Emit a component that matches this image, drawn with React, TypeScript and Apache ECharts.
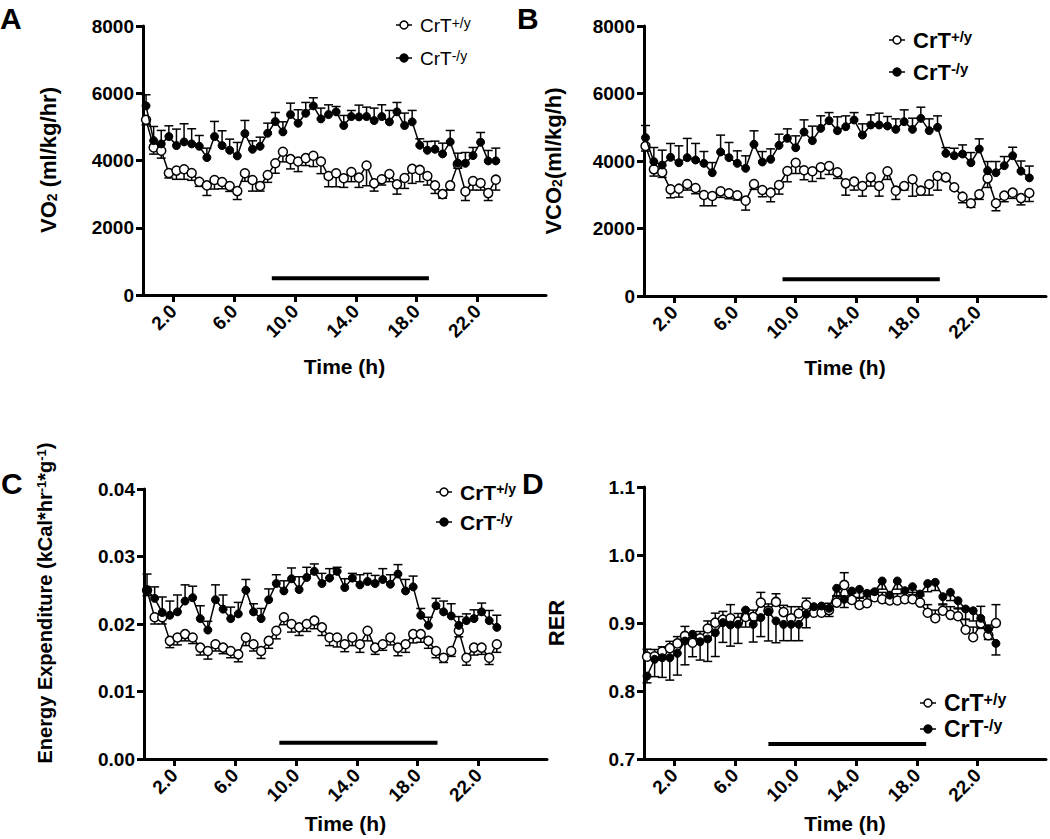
import React, { useEffect, useRef } from "react";
import * as echarts from "echarts";

const FONT = "'Liberation Sans', Arial, Helvetica, sans-serif";

// time points (h)
const timeACD = [0.2,0.7,1.2,1.7,2.2,2.7,3.2,3.7,4.2,4.7,5.2,5.7,6.2,6.7,7.2,7.7,8.2,8.7,9.2,9.7,10.2,10.7,11.2,11.7,12.2,12.7,13.2,13.7,14.2,14.7,15.2,15.7,16.2,16.7,17.2,17.7,18.2,18.7,19.2,19.7,20.2,20.7,21.2,21.7,22.2,22.7,23.2];
const timeB = [0.1,0.65,1.2,1.75,2.3,2.85,3.4,3.95,4.5,5.05,5.6,6.15,6.7,7.25,7.8,8.35,8.9,9.45,10.0,10.55,11.1,11.65,12.2,12.75,13.3,13.85,14.4,14.95,15.5,16.05,16.6,17.15,17.7,18.25,18.8,19.35,19.9,20.45,21.0,21.55,22.1,22.65,23.2,23.75,24.3,24.85,25.4];
const xTicks = [2, 6, 10, 14, 18, 22];

// Panel A: VO2
const vo2Wt = [5210,4390,4290,3630,3700,3740,3630,3370,3260,3420,3360,3240,3090,3620,3420,3240,3570,3920,4260,4040,3970,4070,4140,3970,3540,3620,3470,3660,3490,3850,3320,3440,3600,3290,3480,3750,3720,3540,3260,3000,3260,3890,3080,3390,3330,3030,3430];
const vo2WtErr = [150,200,220,150,260,300,220,140,300,270,200,160,250,240,330,150,220,300,300,290,300,220,320,360,320,400,270,290,290,600,230,170,230,290,310,430,350,270,240,120,140,120,270,270,210,220,310];
const vo2Ko = [5625,4592,4494,4712,4444,4553,4494,4424,4087,4712,4444,4305,4137,4801,4335,4424,4811,5158,4851,5366,5109,5406,5625,5238,5366,5446,5040,5307,5297,5307,5188,5307,5149,5446,5040,5149,4454,4305,4335,4196,4553,3918,3918,4147,4543,3988,3988];
const vo2KoErr = [330,420,400,320,490,540,450,320,280,450,440,330,400,390,250,270,300,270,300,340,400,320,240,320,290,160,300,180,350,280,370,350,340,280,370,340,190,260,240,320,340,300,320,240,290,310,380];
const vo2Bar = [[8.47, 500], [18.8, 500]];

// Panel B: VCO2
const vco2Wt = [4444,3753,3664,3160,3180,3318,3200,2993,2963,3101,3042,2983,2825,3318,3141,3062,3289,3704,3950,3724,3694,3812,3852,3664,3338,3388,3259,3516,3259,3694,3121,3259,3457,3121,3309,3556,3516,3220,2943,2746,3012,3486,2746,2973,3062,2900,3050];
const vco2WtErr = [150,200,150,250,250,180,170,320,290,180,160,140,280,160,200,270,270,320,320,280,300,330,250,180,350,250,300,260,300,240,260,120,500,130,320,420,100,60,180,120,150,270,220,180,170,200,250];
const vco2Ko = [4692,3980,3881,4109,3950,4099,4030,3931,3654,4267,4099,3931,3783,4494,3970,4050,4464,4672,4395,4859,4603,4968,5195,4899,5017,5215,4770,5067,5067,5037,4938,5166,4938,5264,4899,4997,4227,4158,4207,3950,4356,3714,3654,3862,4158,3700,3500];
const vco2KoErr = [360,420,440,410,500,570,490,350,300,500,450,370,370,400,310,310,330,280,350,360,430,370,240,410,320,220,330,300,350,280,310,350,330,330,350,340,170,220,270,300,300,270,330,270,250,300,350];
const vco2Bar = [[9.13, 500], [19.5, 500]];

// Panel C: Energy expenditure
const eeWt = [0.0250,0.0210,0.0210,0.0175,0.0180,0.0185,0.0180,0.0165,0.0160,0.0170,0.0165,0.0160,0.0155,0.0180,0.0170,0.0160,0.0175,0.0190,0.0210,0.0200,0.0195,0.0200,0.0205,0.0195,0.0180,0.0180,0.0170,0.0180,0.0170,0.0190,0.0165,0.0170,0.0180,0.0165,0.0170,0.0185,0.0185,0.0175,0.0160,0.0150,0.0160,0.0190,0.0150,0.0165,0.0165,0.0150,0.0170];
const eeWtErr = [0.0008,0.0010,0.0010,0.0010,0.0011,0.0010,0.0009,0.0011,0.0012,0.0010,0.0009,0.0010,0.0011,0.0012,0.0010,0.0011,0.0011,0.0012,0.0011,0.0012,0.0012,0.0011,0.0012,0.0012,0.0012,0.0014,0.0011,0.0012,0.0012,0.0015,0.0010,0.0009,0.0011,0.0012,0.0012,0.0013,0.0012,0.0011,0.0010,0.0007,0.0008,0.0009,0.0011,0.0011,0.0010,0.0010,0.0012];
const eeKo = [0.0250,0.0238,0.0217,0.0213,0.0218,0.0234,0.0239,0.0208,0.0191,0.0236,0.0222,0.0208,0.0215,0.0250,0.0218,0.0208,0.0236,0.0260,0.0249,0.0267,0.0251,0.0269,0.0278,0.0260,0.0268,0.0278,0.0254,0.0268,0.0258,0.0263,0.0260,0.0266,0.0259,0.0274,0.0249,0.0255,0.0213,0.0198,0.0227,0.0218,0.0212,0.0198,0.0205,0.0208,0.0218,0.0205,0.0195];
const eeKoErr = [0.0024,0.0017,0.0023,0.0021,0.0025,0.0024,0.0017,0.0019,0.0013,0.0022,0.0021,0.0017,0.0017,0.0016,0.0012,0.0015,0.0016,0.0013,0.0015,0.0016,0.0019,0.0015,0.0011,0.0015,0.0014,0.0006,0.0013,0.0007,0.0015,0.0012,0.0012,0.0016,0.0014,0.0014,0.0017,0.0016,0.0010,0.0012,0.0011,0.0016,0.0018,0.0013,0.0010,0.0013,0.0013,0.0015,0.0018];
const eeBar = [[8.9, 0.0024], [19.3, 0.0024]];

// Panel D: RER
const rerWt = [0.8505,0.851,0.858,0.863,0.870,0.881,0.871,0.8775,0.892,0.9005,0.905,0.907,0.902,0.909,0.909,0.930,0.918,0.931,0.916,0.907,0.914,0.9265,0.915,0.915,0.919,0.930,0.956,0.934,0.9265,0.929,0.938,0.935,0.933,0.933,0.935,0.935,0.930,0.915,0.907,0.918,0.912,0.910,0.890,0.879,0.8995,0.882,0.900];
const rerWtErr = [0.011,0.010,0.007,0.010,0.010,0.014,0.010,0.010,0.011,0.014,0.012,0.020,0.012,0.010,0.010,0.015,0.010,0.012,0.010,0.017,0.010,0.010,0.010,0.010,0.010,0.010,0.018,0.010,0.010,0.010,0.010,0.010,0.010,0.010,0.010,0.010,0.010,0.012,0.012,0.010,0.012,0.012,0.015,0.015,0.025,0.015,0.027];
const rerKo = [0.822,0.8466,0.849,0.849,0.8554,0.8735,0.8834,0.8725,0.8765,0.8857,0.9005,0.897,0.898,0.919,0.898,0.908,0.9166,0.903,0.898,0.898,0.898,0.913,0.924,0.925,0.9216,0.951,0.9348,0.947,0.9495,0.9436,0.946,0.9618,0.941,0.9618,0.9475,0.9534,0.9426,0.958,0.9598,0.9387,0.945,0.9328,0.9206,0.918,0.907,0.8907,0.870];
const rerKoErr = [0.010,0.0255,0.029,0.033,0.032,0.035,0.033,0.027,0.033,0.035,0.029,0.031,0.028,0.025,0.026,0.028,0.043,0.032,0.024,0.024,0.024,0.020,0.012,0.012,0.012,0.012,0.012,0.012,0.012,0.012,0.012,0.012,0.012,0.012,0.012,0.012,0.012,0.012,0.012,0.012,0.012,0.012,0.015,0.015,0.015,0.015,0.017];
const rerBar = [[8.2, 0.722], [18.6, 0.722]];

const grids = [
  { left: 143, top: 26, width: 403, height: 269 },
  { left: 644, top: 26, width: 402, height: 270 },
  { left: 144, top: 489, width: 403, height: 270 },
  { left: 644, top: 487, width: 402, height: 272 },
];

const txt = (size: number, weight: string = "bold") => ({
  fontSize: size, fontWeight: weight, fontFamily: FONT, color: "#000",
});

function errData(t: number[], v: number[], e: number[], dir: number) {
  return t.map((x, i) => [x, v[i], v[i] + dir * e[i]]);
}

function renderErr(params: any, api: any) {
  const p0 = api.coord([api.value(0), api.value(1)]);
  const p1 = api.coord([api.value(0), api.value(2)]);
  const st = { stroke: "#000", lineWidth: 1.5 };
  return {
    type: "group",
    children: [
      { type: "line", shape: { x1: p0[0], y1: p0[1], x2: p1[0], y2: p1[1] }, style: st },
      { type: "line", shape: { x1: p1[0] - 4.5, y1: p1[1], x2: p1[0] + 4.5, y2: p1[1] }, style: st },
    ],
  };
}

function panelSeries(idx: number, t: number[], wt: number[], wtErr: number[], wtDir: number, ko: number[], koErr: number[], koDir: number, bar: number[][]) {
  const common = { xAxisIndex: idx, yAxisIndex: idx };
  return [
    { ...common, type: "custom", renderItem: renderErr, data: errData(t, wt, wtErr, wtDir), encode: { x: 0, y: [1, 2] }, z: 1, silent: true },
    { ...common, type: "custom", renderItem: renderErr, data: errData(t, ko, koErr, koDir), encode: { x: 0, y: [1, 2] }, z: 1, silent: true },
    {
      ...common, type: "line", data: t.map((x, i) => [x, wt[i]]), symbol: "circle", symbolSize: 9,
      lineStyle: { color: "#000", width: 1.5 }, itemStyle: { color: "#fff", borderColor: "#000", borderWidth: 1.5 }, z: 3,
    },
    {
      ...common, type: "line", data: t.map((x, i) => [x, ko[i]]), symbol: "circle", symbolSize: 8,
      lineStyle: { color: "#000", width: 1.5 }, itemStyle: { color: "#000", borderColor: "#000", borderWidth: 1 }, z: 4,
    },
    { ...common, type: "line", data: bar, symbol: "none", lineStyle: { color: "#000", width: 4 }, z: 2 },
  ];
}

function xAxis(i: number, gap: number) {
  return {
    type: "value", gridIndex: i, min: 0, max: 26.5,
    axisLine: { show: true, onZero: false, lineStyle: { color: "#000", width: 3 } },
    axisTick: { show: true, customValues: xTicks, length: 7, lineStyle: { color: "#000", width: 3 } },
    axisLabel: { customValues: xTicks, rotate: 45, margin: 13, formatter: (v: number) => v.toFixed(1), ...txt(19) },
    splitLine: { show: false },
    name: "Time (h)", nameLocation: "middle", nameGap: gap, nameTextStyle: txt(21),
  };
}

function yAxis(i: number, min: number, max: number, interval: number, dec: number) {
  return {
    type: "value", gridIndex: i, min, max, interval,
    axisLine: { show: true, onZero: false, lineStyle: { color: "#000", width: 3 } },
    axisTick: { show: true, length: 7, lineStyle: { color: "#000", width: 3 } },
    axisLabel: { margin: 9, formatter: (v: number) => (dec === 0 ? String(Math.round(v)) : v.toFixed(dec)), ...txt(19) },
    splitLine: { show: false },
  };
}

function yTitle(text: string, x: number, y: number, size: number, rich: any) {
  return {
    type: "text", x, y, rotation: Math.PI / 2,
    style: {
      text, textAlign: "center", textVerticalAlign: "middle",
      fontSize: size, fontWeight: "bold", fontFamily: FONT, fill: "#000", rich,
    },
  };
}

const subRich = { sub: { fontSize: 14, fontWeight: "bold", fontFamily: FONT, fill: "#000", verticalAlign: "bottom", lineHeight: 14 } };
const supRich = { sup: { fontSize: 13, fontWeight: "bold", fontFamily: FONT, fill: "#000", verticalAlign: "top", lineHeight: 13 } };

function legend(mx: number, y1: number, y2: number, bold: boolean, size: number, supSize: number) {
  const w = bold ? "bold" : "normal";
  const mk = (y: number, fill: string, r: number) => [
    { type: "line", shape: { x1: mx - 8, y1: y, x2: mx + 8, y2: y }, style: { stroke: "#000", lineWidth: 1.5 } },
    { type: "circle", shape: { cx: mx, cy: y, r }, style: { fill, stroke: "#000", lineWidth: 1.5 } },
  ];
  const label = (y: number, sup: string) => ({
    type: "text", x: mx + 16, y,
    style: {
      text: "CrT{sup|" + sup + "}", textAlign: "left", textVerticalAlign: "middle",
      fontSize: size, fontWeight: w, fontFamily: FONT, fill: "#000",
      rich: { sup: { fontSize: supSize, fontWeight: w, fontFamily: FONT, fill: "#000", verticalAlign: "top", lineHeight: supSize } },
    },
  });
  return [...mk(y1, "#fff", 4), label(y1, "+/y"), ...mk(y2, "#000", 4), label(y2, "-/y")];
}

function letter(t: string, x: number, y: number) {
  return { type: "text", x, y, style: { text: t, fontSize: 30, fontWeight: "bold", fontFamily: FONT, fill: "#000", textAlign: "left", textVerticalAlign: "top" } };
}

export default function App() {
  const ref = useRef<HTMLDivElement>(null);
  useEffect(() => {
    document.body.style.margin = "0";
    if (!ref.current) return;
    const chart = echarts.init(ref.current, null, { renderer: "svg" });
    chart.setOption({
      animation: false,
      backgroundColor: "#fff",
      grid: grids.map((g) => ({ ...g, containLabel: false, outerBoundsMode: "none" })),
      xAxis: [xAxis(0, 61), xAxis(1, 61), xAxis(2, 54), xAxis(3, 54)],
      yAxis: [
        yAxis(0, 0, 8000, 2000, 0),
        yAxis(1, 0, 8000, 2000, 0),
        yAxis(2, 0, 0.04, 0.01, 2),
        yAxis(3, 0.7, 1.1, 0.1, 1),
      ],
      series: [
        ...panelSeries(0, timeACD, vo2Wt, vo2WtErr, -1, vo2Ko, vo2KoErr, 1, vo2Bar),
        ...panelSeries(1, timeB, vco2Wt, vco2WtErr, -1, vco2Ko, vco2KoErr, 1, vco2Bar),
        ...panelSeries(2, timeACD, eeWt, eeWtErr, -1, eeKo, eeKoErr, 1, eeBar),
        ...panelSeries(3, timeACD, rerWt, rerWtErr, 1, rerKo, rerKoErr, -1, rerBar),
      ],
      graphic: [
        letter("A", 0, 3), letter("B", 517, 3), letter("C", 1, 468), letter("D", 522, 468),
        yTitle("VO{sub|2} (ml/kg/hr)", 48, 160, 22, subRich),
        yTitle("VCO{sub|2}(ml/kg/h)", 553, 161, 22, subRich),
        yTitle("Energy Expenditure (kCal*hr{sup|-1}*g{sup|-1})", 45, 603, 20, supRich),
        yTitle("RER", 556, 623, 22, {}),
        ...legend(404, 25, 58, false, 19, 14),
        ...legend(897, 40, 72, true, 22, 15),
        ...legend(444, 492, 522, true, 21, 14),
        ...legend(928, 703, 729, true, 23, 16),
      ],
    });
    return () => chart.dispose();
  }, []);
  return <div ref={ref} style={{ width: 1050, height: 839 }} />;
}
